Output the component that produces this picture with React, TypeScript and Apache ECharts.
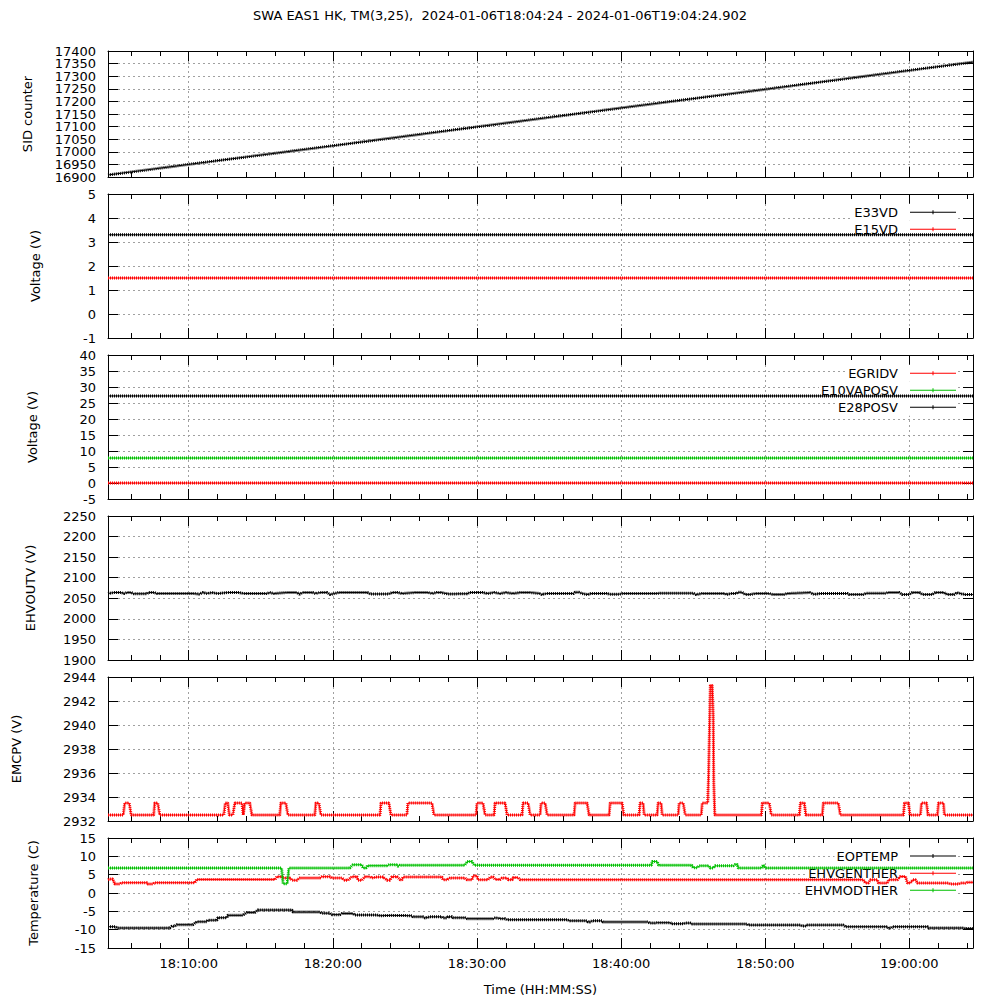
import React, { useEffect, useRef } from "react";
import * as echarts from "echarts";

type Pt = [number, number];

// ---------- texts ----------
const TITLE = "SWA EAS1 HK, TM(3,25),  2024-01-06T18:04:24 - 2024-01-06T19:04:24.902";
const X_AXIS_NAME = "Time (HH:MM:SS)";
const X_START = "18:04:24";
const X_END = "19:04:24.902";
const X_TICK_LABELS = ["18:10:00", "18:20:00", "18:30:00", "18:40:00", "18:50:00", "19:00:00"];
const X_MINOR_TICKS = [
  "18:06:00", "18:08:00", "18:12:00", "18:14:00", "18:16:00", "18:18:00",
  "18:22:00", "18:24:00", "18:26:00", "18:28:00", "18:32:00", "18:34:00",
  "18:36:00", "18:38:00", "18:42:00", "18:44:00", "18:46:00", "18:48:00",
  "18:52:00", "18:54:00", "18:56:00", "18:58:00", "19:02:00", "19:04:00",
];
const SID_TICK_LABELS = [16900, 16950, 17000, 17050, 17100, 17150, 17200, 17250, 17300, 17350, 17400];

// ---------- data: [minutes after 18:00:00, value] ----------
const SID_COUNTER: Pt[] = [
  [4.4, 16908], [10, 16950], [20, 17024], [30, 17099], [40, 17174], [50, 17248], [60, 17323], [64.415, 17356],
];

const E33VD: Pt[] = [[4.4, 3.3], [34.4, 3.3], [64.415, 3.3]];
const E15VD: Pt[] = [[4.4, 1.5], [34.4, 1.5], [64.415, 1.5]];

const EGRIDV: Pt[] = [[4.4, 0], [34.4, 0], [64.415, 0]];
const E10VAPOSV: Pt[] = [[4.4, 7.8], [34.4, 7.8], [64.415, 7.8]];
const E28POSV: Pt[] = [[4.4, 27.2], [34.4, 27.2], [64.415, 27.2]];

const EHVOUTV: Pt[] = [
  [4.4, 2061.5], [4.8, 2064], [5.3, 2064], [5.5, 2061.5], [5.7, 2064], [6.0, 2064], [6.2, 2061],
  [7.1, 2061], [7.2, 2064], [7.6, 2064], [7.8, 2061.5], [10.4, 2061.5], [10.7, 2060], [11.0, 2064],
  [11.3, 2061.5], [11.6, 2064], [12.0, 2061.5], [12.7, 2064], [13.5, 2064], [13.8, 2061.5],
  [15.4, 2061.5], [15.6, 2064], [15.9, 2061.5], [16.8, 2064], [17.5, 2064], [17.7, 2060],
  [17.9, 2064], [18.6, 2064], [18.8, 2061.5], [19.1, 2064], [19.6, 2064], [19.8, 2059],
  [20.1, 2061.5], [20.4, 2064], [22.4, 2064], [22.6, 2060.5], [23.9, 2060.5], [24.1, 2064],
  [24.5, 2064], [24.8, 2061.5], [25.7, 2064], [26.6, 2064], [26.9, 2061.5], [27.2, 2064],
  [27.5, 2064], [28.0, 2060.5], [29.3, 2061], [29.5, 2064], [30.4, 2064], [30.7, 2061.5],
  [31.2, 2064], [31.6, 2061.5], [32.0, 2064], [32.5, 2061.5], [33.0, 2064], [33.7, 2064],
  [34.4, 2061.5], [34.5, 2059], [34.8, 2061.5], [36.7, 2061.5], [36.8, 2064.5], [37.1, 2064.5],
  [37.3, 2061.5], [37.7, 2059], [37.9, 2061.5], [39.0, 2061.5], [39.2, 2060], [39.9, 2060],
  [40.1, 2061.5], [42.5, 2061.5], [42.7, 2062.5], [45.0, 2062.5], [45.2, 2059], [45.6, 2061.5],
  [47.2, 2061.5], [47.3, 2059], [47.6, 2061.5], [48.0, 2061.5], [48.1, 2064.5], [48.4, 2064.5],
  [48.6, 2059.5], [49.0, 2059.5], [49.3, 2061.5], [50.3, 2061.5], [50.5, 2059.5], [51.3, 2059.5],
  [51.5, 2061.5], [52.2, 2062.5], [53.1, 2064], [53.4, 2059.5], [53.8, 2061.5], [55.7, 2061.5],
  [55.8, 2059.5], [56.8, 2059.5], [57.0, 2062], [58.3, 2062], [58.5, 2064], [59.3, 2064],
  [59.5, 2059.5], [60.0, 2059.5], [60.2, 2064], [60.7, 2064], [60.9, 2059.5], [61.6, 2059.5],
  [61.8, 2064], [62.4, 2064], [62.6, 2059.5], [63.1, 2059.5], [63.3, 2064], [63.6, 2061],
  [63.9, 2059], [64.415, 2059],
];

const EMCPV: Pt[] = [
  [4.4, 2932.5],
  [5.46, 2932.5], [5.56, 2933.5], [5.87, 2933.5], [6.01, 2932.5],
  [7.57, 2932.5], [7.64, 2933.5], [7.85, 2933.5], [7.99, 2932.5],
  [12.43, 2932.5], [12.54, 2933.5], [12.71, 2933.5], [12.82, 2932.5],
  [13.06, 2932.5], [13.2, 2933.5], [13.69, 2933.5], [13.79, 2932.5],
  [13.89, 2933.5], [14.24, 2933.5], [14.38, 2932.5],
  [16.32, 2932.5], [16.39, 2933.5], [16.74, 2933.5], [16.88, 2932.5],
  [18.75, 2932.5], [18.82, 2933.5], [19.03, 2933.5], [19.17, 2932.5],
  [23.27, 2932.5], [23.34, 2933.5], [23.89, 2933.5], [24.03, 2932.5],
  [25.14, 2932.5], [25.21, 2933.5], [26.88, 2933.5], [27.02, 2932.5],
  [29.94, 2932.5], [30.0, 2933.5], [30.42, 2933.5], [30.56, 2932.5],
  [31.19, 2932.5], [31.25, 2933.5], [31.95, 2933.5], [32.09, 2932.5],
  [33.13, 2932.5], [33.2, 2933.5], [33.55, 2933.5], [33.69, 2932.5],
  [34.38, 2932.5], [34.45, 2933.5], [34.73, 2933.5], [34.87, 2932.5],
  [36.74, 2932.5], [36.81, 2933.5], [37.64, 2933.5], [37.78, 2932.5],
  [39.17, 2932.5], [39.24, 2933.5], [40.07, 2933.5], [40.18, 2932.5],
  [41.25, 2932.5], [41.32, 2933.5], [41.53, 2933.5], [41.6, 2932.5],
  [42.5, 2932.5], [42.57, 2933.5], [42.78, 2933.5], [42.85, 2932.5],
  [43.96, 2932.5], [44.03, 2933.5], [44.31, 2933.5], [44.45, 2932.5],
  [45.56, 2932.5], [45.63, 2933.5], [46.01, 2933.5], [46.07, 2935.9], [46.19, 2943.3],
  [46.32, 2943.3], [46.39, 2940.75], [46.43, 2935.2], [46.5, 2932.5],
  [49.73, 2932.5], [49.8, 2933.5], [50.28, 2933.5], [50.42, 2932.5],
  [52.37, 2932.5], [52.44, 2933.5], [52.71, 2933.5], [52.82, 2932.5],
  [53.96, 2932.5], [54.03, 2933.5], [55.07, 2933.5], [55.21, 2932.5],
  [59.59, 2932.5], [59.66, 2933.5], [59.94, 2933.5], [60.04, 2932.5],
  [60.77, 2932.5], [60.84, 2933.5], [61.19, 2933.5], [61.29, 2932.5],
  [61.95, 2932.5], [62.02, 2933.5], [62.37, 2933.5], [62.43, 2932.5],
  [64.415, 2932.5],
];

const EOPTEMP: Pt[] = [
  [4.4, -9.2], [4.9, -9.2], [5.07, -9.55], [8.68, -9.55], [8.82, -9.1], [9.0, -9.1], [9.17, -8.65],
  [10.28, -8.65], [10.56, -7.85], [11.25, -7.85], [11.32, -7.4], [11.95, -7.4], [12.02, -6.75],
  [12.64, -6.75], [12.71, -6.1], [13.75, -6.1], [14.03, -5.3], [14.59, -5.3], [14.8, -4.65],
  [17.16, -4.65], [17.23, -5.2], [19.1, -5.2], [19.24, -5.5], [19.8, -5.5], [19.93, -5.9],
  [20.49, -5.9], [20.63, -5.6], [21.39, -5.6], [21.53, -6.0], [23.06, -6.0], [23.27, -6.2],
  [24.1, -6.1], [25.49, -6.2], [25.56, -6.5], [26.25, -6.5], [26.39, -6.8], [26.74, -6.5],
  [27.57, -6.5], [27.64, -6.8], [27.92, -6.8], [27.99, -6.5], [28.27, -6.5], [28.34, -6.75],
  [29.17, -6.75], [29.31, -7.0], [31.12, -7.0], [31.26, -6.8], [31.46, -6.8], [31.6, -7.0],
  [31.95, -7.0], [32.09, -7.3], [36.25, -7.3], [36.46, -7.6], [37.64, -7.6], [37.71, -7.9],
  [37.85, -7.9], [37.99, -7.6], [38.68, -7.6], [38.75, -7.9], [41.81, -7.9], [42.02, -8.2],
  [42.37, -8.2], [42.5, -8.1], [43.41, -8.1], [43.55, -8.4], [44.31, -8.4], [44.45, -8.2],
  [44.8, -8.2], [44.93, -8.45], [48.75, -8.45], [48.82, -8.75], [52.43, -8.75], [52.57, -9.0],
  [52.78, -9.0], [52.92, -8.75], [55.42, -8.75], [55.56, -9.2], [58.48, -9.2], [58.55, -9.6],
  [58.7, -9.6], [58.83, -9.2], [61.26, -9.2], [61.33, -9.55], [63.76, -9.55], [63.89, -9.7],
  [64.415, -9.7],
];

const EHVGENTHER: Pt[] = [
  [4.4, 3.6], [4.52, 3.8], [4.73, 3.8], [4.87, 2.45], [5.21, 2.45], [5.35, 2.8], [7.09, 2.8],
  [7.16, 2.45], [7.5, 2.45], [7.64, 2.8], [10.42, 2.8], [10.56, 3.7], [16.0, 3.7], [16.11, 4.45],
  [16.46, 4.45], [16.55, 4.1], [17.02, 4.1], [17.16, 3.5], [17.5, 3.5], [17.71, 4.1], [19.1, 4.1],
  [19.24, 4.45], [19.8, 4.45], [19.93, 4.1], [20.63, 4.1], [20.84, 3.5], [21.05, 3.5],
  [21.32, 4.45], [21.67, 4.45], [21.74, 3.5], [22.02, 3.5], [22.23, 4.45], [22.57, 4.45],
  [22.71, 4.1], [23.06, 4.35], [23.48, 4.35], [23.76, 3.5], [23.96, 3.5], [24.1, 4.45],
  [24.45, 4.45], [24.66, 3.6], [24.8, 3.6], [24.87, 4.36], [27.57, 4.36], [27.64, 3.6],
  [27.92, 3.6], [28.13, 4.1], [29.17, 4.1], [29.31, 3.6], [29.66, 3.6], [29.73, 4.7], [30.0, 4.7],
  [30.07, 3.6], [30.77, 3.6], [30.91, 4.36], [31.12, 4.36], [31.26, 3.7], [31.6, 3.7], [31.74, 4.1],
  [32.09, 4.1], [32.16, 3.6], [32.44, 3.6], [32.51, 4.2], [32.85, 4.2], [32.99, 3.63],
  [56.81, 3.63], [56.95, 2.7], [57.15, 2.7], [57.3, 3.6], [57.78, 3.6], [57.85, 2.7], [58.48, 2.7],
  [58.55, 3.6], [59.17, 3.6], [59.38, 4.5], [59.73, 4.5], [59.87, 2.7], [60.08, 2.7], [60.22, 3.6],
  [60.42, 3.6], [60.56, 2.7], [62.71, 2.7], [62.85, 2.45], [63.41, 2.45], [63.55, 2.7],
  [63.89, 2.7], [64.03, 2.9], [64.415, 2.9],
];

const EHVMODTHER: Pt[] = [
  [4.4, 6.8], [16.44, 6.8], [16.55, 2.5], [16.83, 2.5], [16.95, 6.8], [21.18, 6.8], [21.32, 7.45],
  [21.39, 7.7], [22.02, 7.7], [22.09, 6.8], [22.3, 6.8], [22.4, 7.45], [23.76, 7.45], [23.9, 7.7],
  [24.4, 7.7], [24.52, 7.3], [24.66, 7.6], [29.17, 7.6], [29.31, 8.6], [29.66, 8.6], [29.8, 7.6],
  [42.1, 7.6], [42.16, 8.6], [42.5, 8.6], [42.6, 7.6], [44.9, 7.6], [45.0, 6.9], [45.28, 6.9],
  [45.4, 7.4], [46.1, 7.4], [46.18, 6.8], [46.39, 6.8], [46.53, 7.4], [47.78, 7.4], [47.92, 7.8],
  [48.06, 7.8], [48.13, 6.8], [49.75, 6.8], [49.87, 7.7], [50.0, 6.8], [64.415, 6.8],
];

// ---------- styles / layout ----------
const FONT = '"DejaVu Sans", sans-serif';
const BLACK = "#000000";
const RED = "#ff0000";
const GREEN = "#00c000";
const GRID_COLOR = "#a0a0a0";

interface SeriesDef { name: string; data: Pt[]; color: string; legendTop?: number }
interface PanelDef {
  yName: string; yMin: number; yMax: number; yStep: number; series: SeriesDef[];
  yLabels?: number[];
}

const PANELS: PanelDef[] = [
  { yName: "SID counter", yMin: 16900, yMax: 17400, yStep: 50, yLabels: SID_TICK_LABELS,
    series: [{ name: "SID counter", data: SID_COUNTER, color: BLACK }] },
  { yName: "Voltage (V)", yMin: -1, yMax: 5, yStep: 1,
    series: [
      { name: "E33VD", data: E33VD, color: BLACK, legendTop: 203.8 },
      { name: "E15VD", data: E15VD, color: RED, legendTop: 220.8 },
    ] },
  { yName: "Voltage (V)", yMin: -5, yMax: 40, yStep: 5,
    series: [
      { name: "EGRIDV", data: EGRIDV, color: RED, legendTop: 364.8 },
      { name: "E10VAPOSV", data: E10VAPOSV, color: GREEN, legendTop: 381.8 },
      { name: "E28POSV", data: E28POSV, color: BLACK, legendTop: 398.8 },
    ] },
  { yName: "EHVOUTV (V)", yMin: 1900, yMax: 2250, yStep: 50,
    series: [{ name: "EHVOUTV", data: EHVOUTV, color: BLACK }] },
  { yName: "EMCPV (V)", yMin: 2932, yMax: 2944, yStep: 2,
    series: [{ name: "EMCPV", data: EMCPV, color: RED }] },
  { yName: "Temperature (C)", yMin: -15, yMax: 15, yStep: 5,
    series: [
      { name: "EOPTEMP", data: EOPTEMP, color: BLACK, legendTop: 847.5 },
      { name: "EHVGENTHER", data: EHVGENTHER, color: RED, legendTop: 864.8 },
      { name: "EHVMODTHER", data: EHVMODTHER, color: GREEN, legendTop: 881.8 },
    ] },
];

const LAYOUT = [
  { top: 51, height: 126, nameGap: 74 },
  { top: 194, height: 144, nameGap: 66 },
  { top: 355, height: 144, nameGap: 69 },
  { top: 516, height: 144, nameGap: 71 },
  { top: 677, height: 144, nameGap: 85 },
  { top: 838, height: 110, nameGap: 68 },
];

const toMin = (s: string) => {
  const [h, m, sec] = s.split(":").map(Number);
  return (h - 18) * 60 + m + sec / 60;
};

const LEGEND_ICON = "path://M0,0M7,1.5h46v1h-46zM29.5,0h1v4h-1z";

function buildOption() {
  const xMin = toMin(X_START);
  const xMax = toMin(X_END);
  const majors = X_TICK_LABELS.map(toMin);
  const minors = X_MINOR_TICKS.map(toMin);
  const fmtX = (v: number) => {
    let best = 0;
    majors.forEach((m, i) => { if (Math.abs(m - v) < Math.abs(majors[best] - v)) best = i; });
    return X_TICK_LABELS[best];
  };
  const fmtY = (v: number) => String(Math.round(v * 1000) / 1000);
  const axisLineStyle = { color: BLACK, width: 1 };
  const splitStyle = { color: GRID_COLOR, width: 1, type: [2, 3] as number[] };
  const textBase = { fontFamily: FONT, fontSize: 13, color: BLACK };

  const grid: any[] = [];
  const xAxis: any[] = [];
  const yAxis: any[] = [];
  const series: any[] = [];
  const legend: any[] = [];

  PANELS.forEach((p, i) => {
    const L = LAYOUT[i];
    grid.push({ left: 108, right: 27, top: L.top, height: L.height, containLabel: false, outerBoundsMode: "none" });
    const last = i === PANELS.length - 1;
    const xc = { type: "value", gridIndex: i, min: xMin, max: xMax };
    const xIndex = xAxis.length;
    xAxis.push({
      ...xc, position: "bottom",
      axisLine: { show: true, onZero: false, lineStyle: axisLineStyle },
      axisTick: { show: true, inside: true, length: 10, customValues: majors, lineStyle: axisLineStyle },
      axisLabel: { show: last, customValues: majors, formatter: fmtX, margin: 9, ...textBase },
      splitLine: { show: true, lineStyle: splitStyle },
      name: last ? X_AXIS_NAME : "", nameLocation: "middle", nameGap: 35, nameTextStyle: textBase,
    });
    xAxis.push({
      ...xc, position: "bottom",
      axisLine: { show: false, onZero: false },
      axisTick: { show: true, inside: true, length: 5, customValues: minors, lineStyle: axisLineStyle },
      axisLabel: { show: false }, splitLine: { show: false },
    });
    xAxis.push({
      ...xc, position: "top",
      axisLine: { show: true, onZero: false, lineStyle: axisLineStyle },
      axisTick: { show: true, inside: true, length: 10, customValues: majors, lineStyle: axisLineStyle },
      axisLabel: { show: false }, splitLine: { show: false },
    });
    xAxis.push({
      ...xc, position: "top",
      axisLine: { show: false, onZero: false },
      axisTick: { show: true, inside: true, length: 5, customValues: minors, lineStyle: axisLineStyle },
      axisLabel: { show: false }, splitLine: { show: false },
    });

    const yc = { type: "value", gridIndex: i, min: p.yMin, max: p.yMax, interval: p.yStep };
    const labelBase = { margin: 12, formatter: fmtY, ...textBase, showMinLabel: true, showMaxLabel: true, hideOverlap: false };
    const yIndex = yAxis.length;
    const evenLabels = p.yLabels ? p.yLabels.filter((_, k) => k % 2 === 0) : undefined;
    const oddLabels = p.yLabels ? p.yLabels.filter((_, k) => k % 2 === 1) : undefined;
    yAxis.push({
      ...yc, position: "left",
      axisLine: { show: true, onZero: false, lineStyle: axisLineStyle },
      axisTick: { show: true, inside: true, length: 10, lineStyle: axisLineStyle },
      axisLabel: evenLabels ? { ...labelBase, customValues: evenLabels } : labelBase,
      splitLine: { show: true, lineStyle: splitStyle },
      name: p.yName, nameLocation: "middle", nameGap: L.nameGap, nameRotate: 90, nameTextStyle: textBase,
    });
    yAxis.push({
      ...yc, position: "right",
      axisLine: { show: true, onZero: false, lineStyle: axisLineStyle },
      axisTick: { show: true, inside: true, length: 10, lineStyle: axisLineStyle },
      axisLabel: { show: false }, splitLine: { show: false },
    });
    if (oddLabels) {
      yAxis.push({
        ...yc, position: "left",
        axisLine: { show: false, onZero: false },
        axisTick: { show: false },
        axisLabel: { ...labelBase, customValues: oddLabels },
        splitLine: { show: false },
      });
    }

    p.series.forEach((s) => {
      const base = {
        type: "line", xAxisIndex: xIndex, yAxisIndex: yIndex, data: s.data,
        showSymbol: false, silent: true, z: 3, animation: false,
      };
      series.push({
        ...base, name: s.name,
        symbol: "none",
        lineStyle: { color: s.color, width: 1 },
        itemStyle: { color: s.color },
      });
      series.push({
        ...base, name: s.name + " points",
        symbol: "none",
        lineStyle: { color: s.color, width: 3, type: [1, 1] },
        itemStyle: { color: s.color },
      });
      if (s.legendTop !== undefined) {
        legend.push({
          data: [{ name: s.name, icon: LEGEND_ICON }],
          right: 42, top: s.legendTop, orient: "horizontal", align: "right",
          itemWidth: 53, itemHeight: 4, padding: [1, 2, 1, 2],
          backgroundColor: "#ffffff", selectedMode: false, z: 1,
          itemStyle: { borderWidth: 0 },
          textStyle: { ...textBase, lineHeight: 15 },
        });
      }
    });
  });

  return {
    animation: false,
    backgroundColor: "#ffffff",
    title: {
      text: TITLE, left: "center", top: 9, padding: 0,
      textStyle: { ...textBase, fontWeight: "normal" },
    },
    grid, xAxis, yAxis, series, legend,
  };
}

export default function App() {
  const ref = useRef<HTMLDivElement>(null);
  useEffect(() => {
    if (!ref.current) return;
    const chart = echarts.init(ref.current, undefined, { renderer: "svg" });
    chart.setOption(buildOption() as any);
    return () => chart.dispose();
  }, []);
  return (
    <div
      ref={ref}
      style={{ position: "fixed", left: 0, top: 0, width: 1000, height: 1000, background: "#fff" }}
    />
  );
}
